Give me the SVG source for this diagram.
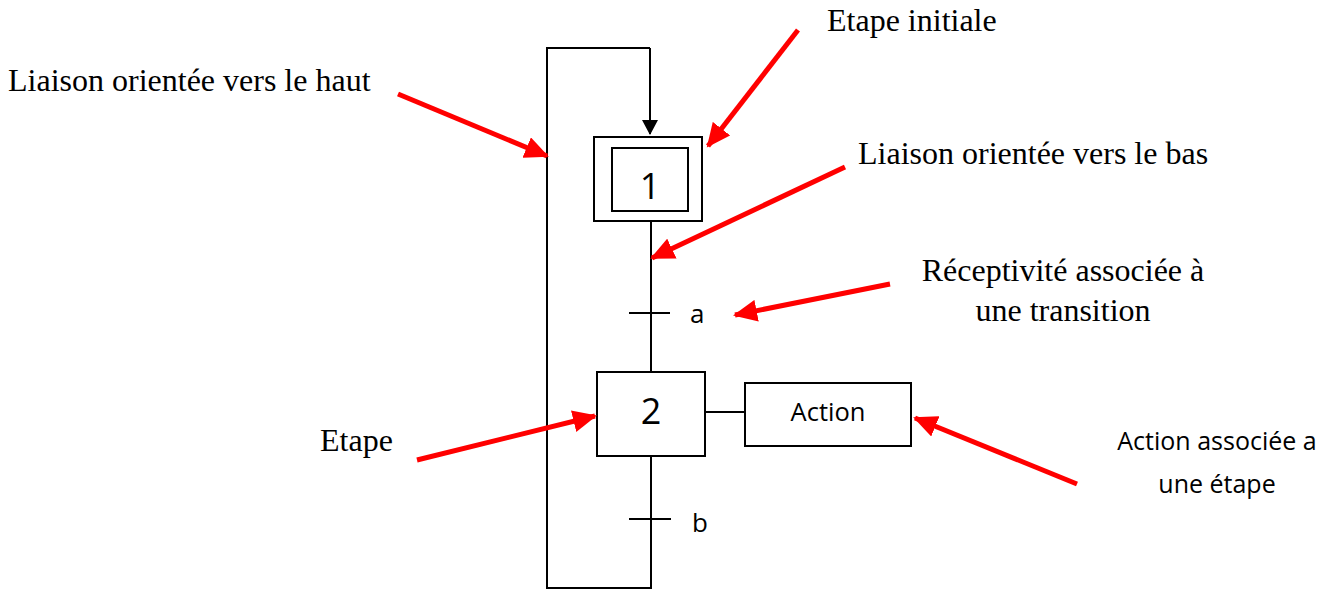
<svg xmlns="http://www.w3.org/2000/svg" width="1337" height="590" viewBox="0 0 1337 590">
  <style>
    .ln { fill: none; stroke: #000; stroke-width: 2; }
    .box { fill: #fff; stroke: #000; stroke-width: 2; }
    .red { fill: none; stroke: #f00; stroke-width: 5; marker-end: url(#redHead); }
    .serif { font-family: "Liberation Serif", "Times New Roman", serif; font-size: 32px; fill: #000; }
    .sans { font-family: "Open Sans", "Liberation Sans", sans-serif; fill: #000; }
    .num { font-size: 36px; text-anchor: middle; }
    .cond { font-size: 26px; }
  </style>
  <defs>
    <marker id="redHead" markerUnits="userSpaceOnUse" markerWidth="26" markerHeight="22" refX="22" refY="11" orient="auto">
      <path d="M0,0 L24,11 L0,22 Z" fill="#f00"/>
    </marker>
    <marker id="blackHead" markerUnits="userSpaceOnUse" markerWidth="16" markerHeight="16" refX="14" refY="8" orient="auto">
      <path d="M0,0 L15,8 L0,16 Z" fill="#000"/>
    </marker>
  </defs>
  <rect width="1337" height="590" fill="#fff"/>

  <!-- links between steps -->
  <g id="connectors">
    <path class="ln" d="M650,48 H547 V588 H651 V456"/>
    <path class="ln" d="M650,48 V134" marker-end="url(#blackHead)"/>
    <path class="ln" d="M651,221 V372"/>
    <path class="ln" d="M705,412 H745"/>
    <!-- transitions -->
    <path class="ln" d="M629,313 H670"/>
    <path class="ln" d="M629,519 H671"/>
  </g>

  <g id="step1">
    <rect class="box" x="594" y="137" width="108" height="84"/>
    <rect class="box" x="612" y="148" width="76" height="63"/>
    <text class="sans num" x="650" y="199">1</text>
  </g>

  <g id="transition-a">
    <text class="sans cond" x="690" y="323">a</text>
  </g>

  <g id="step2">
    <rect class="box" x="597" y="372" width="108" height="84"/>
    <text class="sans num" x="651" y="424">2</text>
  </g>

  <g id="action">
    <rect class="box" x="745" y="383" width="166" height="63"/>
    <text class="sans" x="828" y="421" font-size="25.5" text-anchor="middle">Action</text>
  </g>

  <g id="transition-b">
    <text class="sans cond" x="692" y="532">b</text>
  </g>

  <!-- annotations -->
  <g id="annotations">
    <text class="serif" x="827" y="31">Etape initiale</text>
    <text class="serif" x="8" y="91">Liaison orientée vers le haut</text>
    <text class="serif" x="858" y="164">Liaison orientée vers le bas</text>
    <text class="serif" x="1063" y="281" text-anchor="middle">Réceptivité associée à</text>
    <text class="serif" x="1063" y="321" text-anchor="middle">une transition</text>
    <text class="serif" x="320" y="451">Etape</text>
    <text class="sans" x="1217" y="450" font-size="25" text-anchor="middle">Action associée a</text>
    <text class="sans" x="1217" y="493" font-size="25" text-anchor="middle">une étape</text>

    <path class="red" d="M798,30 L708,146"/>
    <path class="red" d="M398,94 L547,156"/>
    <path class="red" d="M845,167 L652,258"/>
    <path class="red" d="M890,284 L735,315"/>
    <path class="red" d="M417,460 L595,416"/>
    <path class="red" d="M1077,484 L915,418"/>
  </g>
</svg>
